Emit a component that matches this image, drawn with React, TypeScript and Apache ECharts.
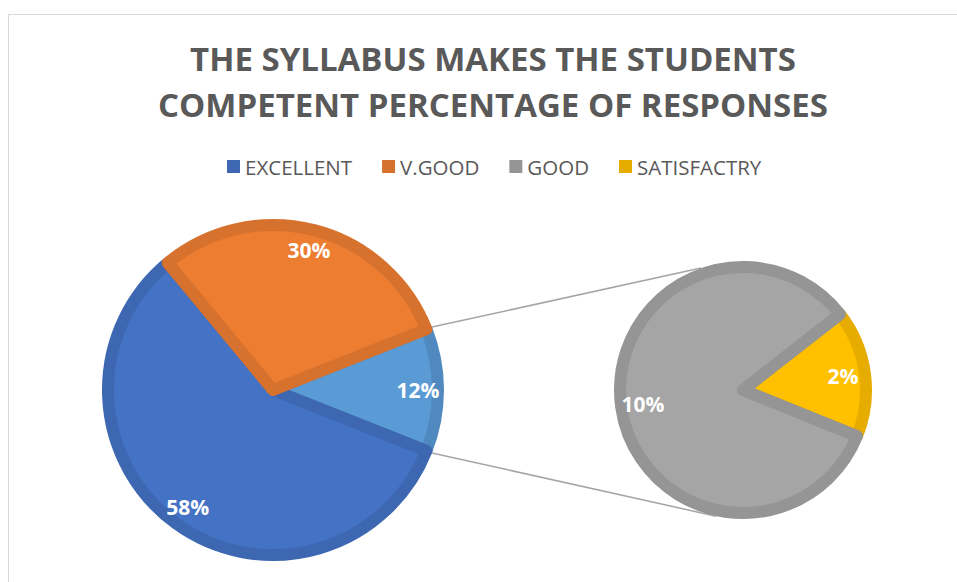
import React, { useEffect, useRef } from "react";
import * as echarts from "echarts";

const titleLines = ["THE SYLLABUS MAKES THE STUDENTS", "COMPETENT PERCENTAGE OF RESPONSES"];
const mainCategories = ["EXCELLENT", "V.GOOD"];
const mainValues = [58, 30];
const secondaryCategories = ["SATISFACTRY", "GOOD"];
const secondaryValues = [2, 10];
const legendOrder = ["EXCELLENT", "V.GOOD", "GOOD", "SATISFACTRY"];

const FONT = "'Open Sans', 'DejaVu Sans', sans-serif";

const fills: Record<string, string> = {
  EXCELLENT: "#4472C4",
  "V.GOOD": "#ED7D31",
  OTHER: "#5B9BD5",
  GOOD: "#A5A5A5",
  SATISFACTRY: "#FFC000",
};
const borders: Record<string, string> = {
  EXCELLENT: "#3E67B1",
  "V.GOOD": "#D6722D",
  OTHER: "#5089BF",
  GOOD: "#959595",
  SATISFACTRY: "#E6AD00",
};

const MAIN_C = [273, 390];
const MAIN_R = 171;
const SEC_C = [743, 390];
const SEC_R = 129;
const BW = 12;
const SEC_START = 38;
const SEC_TOP_ANGLE = 109;
const SEC_BOTTOM_ANGLE = -102;

export default function App() {
  const ref = useRef<HTMLDivElement>(null);
  useEffect(() => {
    if (!ref.current) return;
    const chart = echarts.init(ref.current, undefined, { renderer: "svg" });

    const otherValue = secondaryValues.reduce((a, b) => a + b, 0);
    const total = mainValues.reduce((a, b) => a + b, 0) + otherValue;
    const halfOther = ((otherValue / total) * 360) / 2;

    const mainData = [
      { name: "OTHER", value: otherValue },
      ...mainCategories.map((n, i) => ({ name: n, value: mainValues[i] })),
    ].map((d) => ({
      ...d,
      itemStyle: { color: fills[d.name], borderColor: borders[d.name], borderWidth: BW },
    }));
    const secData = secondaryCategories
      .map((n, i) => ({ name: n, value: secondaryValues[i] }))
      .map((d) => ({
        ...d,
        itemStyle: { color: fills[d.name], borderColor: borders[d.name], borderWidth: BW },
      }));

    const labelStyle = {
      show: true,
      position: "inside" as const,
      formatter: "{c}%",
      color: "#FFFFFF",
      fontFamily: FONT,
      fontWeight: "bold" as const,
      fontSize: 21,
    };

    const toRad = (a: number) => (a * Math.PI) / 180;
    const pt = (c: number[], r: number, a: number) => [
      c[0] + r * Math.cos(toRad(a)),
      c[1] - r * Math.sin(toRad(a)),
    ];
    const m1 = pt(MAIN_C, MAIN_R, halfOther);
    const m2 = pt(MAIN_C, MAIN_R, -halfOther);
    const s1 = pt(SEC_C, SEC_R, SEC_TOP_ANGLE);
    const s2 = pt(SEC_C, SEC_R, SEC_BOTTOM_ANGLE);

    chart.setOption({
      animation: false,
      title: {
        text: titleLines.join("\n"),
        left: 488,
        top: 30,
        textAlign: "center",
        textStyle: {
          fontFamily: FONT,
          fontWeight: "bold",
          fontSize: 33,
          lineHeight: 46,
          color: "#595959",
        },
      },
      legend: {
        data: legendOrder.map((n) => ({
          name: n,
          itemStyle: { color: borders[n], borderWidth: 0 },
        })),
        left: 222,
        top: 151,
        width: 720,
        icon: "rect",
        itemWidth: 13,
        itemHeight: 13,
        itemGap: 30,
        selectedMode: false,
        textStyle: { fontFamily: FONT, fontSize: 20.5, color: "#595959" },
      },
      graphic: [
        {
          type: "rect",
          z: 0,
          shape: { x: 8.5, y: 14.5, width: 2000, height: 2000 },
          style: { fill: "none", stroke: "#D9D9D9", lineWidth: 1 },
        },
        {
          type: "line",
          z: 1,
          shape: { x1: m1[0], y1: m1[1], x2: s1[0], y2: s1[1] },
          style: { stroke: "#A5A5A5", lineWidth: 1.5 },
        },
        {
          type: "line",
          z: 1,
          shape: { x1: m2[0], y1: m2[1], x2: s2[0], y2: s2[1] },
          style: { stroke: "#A5A5A5", lineWidth: 1.5 },
        },
      ],
      series: [
        {
          type: "pie",
          center: MAIN_C,
          radius: [0, MAIN_R - BW / 2],
          startAngle: halfOther,
          data: mainData,
          label: { show: false },
          labelLine: { show: false },
          silent: true,
          emphasis: { disabled: true },
        },
        {
          type: "pie",
          center: MAIN_C,
          radius: [MAIN_R * 0.66, MAIN_R],
          startAngle: halfOther,
          data: mainData.map((d) => ({ name: d.name, value: d.value })),
          itemStyle: { color: "rgba(0,0,0,0)", borderWidth: 0 },
          label: labelStyle,
          labelLine: { show: false },
          silent: true,
          legendHoverLink: false,
          emphasis: { disabled: true },
        },
        {
          type: "pie",
          center: SEC_C,
          radius: [0, SEC_R - BW / 2],
          startAngle: SEC_START,
          data: secData,
          label: { show: false },
          labelLine: { show: false },
          silent: true,
          emphasis: { disabled: true },
        },
        {
          type: "pie",
          center: SEC_C,
          radius: [SEC_R * 0.52, SEC_R],
          startAngle: SEC_START,
          data: secData.map((d) => ({ name: d.name, value: d.value })),
          itemStyle: { color: "rgba(0,0,0,0)", borderWidth: 0 },
          label: labelStyle,
          labelLine: { show: false },
          silent: true,
          legendHoverLink: false,
          emphasis: { disabled: true },
        },
      ],
    });
    return () => chart.dispose();
  }, []);
  return (
    <div
      ref={ref}
      style={{ position: "fixed", left: 0, top: 0, width: 957, height: 582, background: "#FFFFFF" }}
    />
  );
}
